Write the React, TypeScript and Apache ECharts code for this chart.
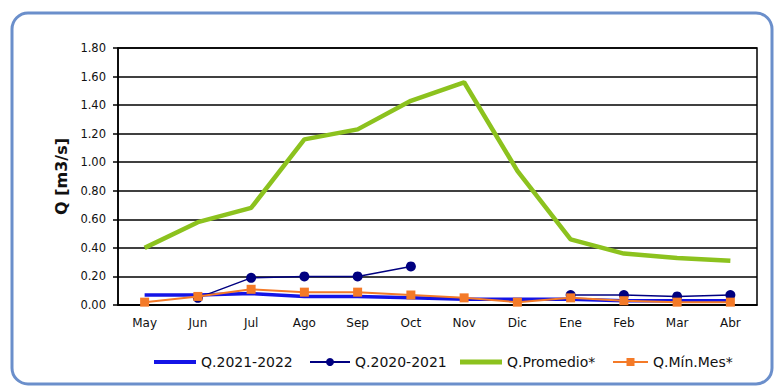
import React, { useEffect, useRef } from "react";
import * as echarts from "echarts";

const months = ["May", "Jun", "Jul", "Ago", "Sep", "Oct", "Nov", "Dic", "Ene", "Feb", "Mar", "Abr"];
const q2021_2022 = [0.07, 0.07, 0.08, 0.06, 0.06, 0.05, 0.04, 0.04, 0.04, 0.03, 0.03, 0.03];
const q2020_2021 = [null, 0.05, 0.19, 0.2, 0.2, 0.27, null, null, 0.07, 0.07, 0.06, 0.07];
const qPromedio = [0.4, 0.58, 0.68, 1.16, 1.23, 1.43, 1.56, 0.94, 0.46, 0.36, 0.33, 0.31];
const qMinMes = [0.02, 0.06, 0.11, 0.09, 0.09, 0.07, 0.05, 0.02, 0.05, 0.03, 0.02, 0.02];
const seriesNames = ["Q.2021-2022", "Q.2020-2021", "Q.Promedio*", "Q.Mín.Mes*"];

export default function App() {
  const ref = useRef<HTMLDivElement>(null);
  useEffect(() => {
    if (!ref.current) return;
    const chart = echarts.init(ref.current, null, { renderer: "svg" });
    const font = "DejaVu Sans, Liberation Sans, Arial, sans-serif";
    const legendText = { fontFamily: font, fontSize: 14, color: "#111" };
    const legendTop = 350;
    chart.setOption({
      animation: false,
      backgroundColor: "#ffffff",
      textStyle: { fontFamily: font },
      graphic: [
        {
          type: "rect",
          shape: { x: 12, y: 13, width: 760, height: 371, r: 16 },
          style: { fill: "none", stroke: "#6b8fcb", lineWidth: 3 },
          silent: true,
        },
      ],
      grid: {
        left: 118,
        right: 19,
        top: 48,
        bottom: 82,
        show: true,
        borderColor: "#000",
        borderWidth: 1.5,
        backgroundColor: "transparent",
      },
      legend: [
        {
          data: [{ name: seriesNames[0], icon: "rect" }],
          left: 149,
          top: legendTop,
          itemWidth: 42,
          itemHeight: 4,
          textStyle: legendText,
        },
        {
          data: [seriesNames[1]],
          left: 304,
          top: legendTop,
          itemWidth: 40,
          itemHeight: 10,
          textStyle: legendText,
        },
        {
          data: [{ name: seriesNames[2], icon: "rect" }],
          left: 455,
          top: legendTop,
          itemWidth: 42,
          itemHeight: 5,
          textStyle: legendText,
        },
        {
          data: [seriesNames[3]],
          left: 607,
          top: legendTop,
          itemWidth: 35,
          itemHeight: 10,
          textStyle: legendText,
        },
      ],
      xAxis: {
        type: "category",
        data: months,
        boundaryGap: true,
        axisLine: { lineStyle: { color: "#000", width: 1.5 } },
        axisTick: { inside: true, length: 5, lineStyle: { color: "#000", width: 1.5 } },
        axisLabel: { color: "#111", fontSize: 12, fontFamily: font, margin: 12 },
      },
      yAxis: {
        type: "value",
        min: 0,
        max: 1.8,
        interval: 0.2,
        name: "Q [m3/s]",
        nameLocation: "middle",
        nameGap: 42,
        nameTextStyle: { fontFamily: font, fontSize: 16, fontWeight: "bold", color: "#111" },
        axisLine: { show: true, lineStyle: { color: "#000", width: 1.5 } },
        axisTick: { show: true, length: 5, lineStyle: { color: "#000", width: 1.5 } },
        axisLabel: {
          color: "#111",
          fontSize: 11.5,
          fontFamily: font,
          margin: 12,
          formatter: (v: number) => v.toFixed(2),
        },
        splitLine: { lineStyle: { color: "#000", width: 1.5 } },
      },
      series: [
        {
          name: seriesNames[0],
          type: "line",
          data: q2021_2022,
          symbol: "none",
          lineStyle: { color: "#1414e6", width: 3.5 },
          itemStyle: { color: "#1414e6" },
          z: 2,
        },
        {
          name: seriesNames[1],
          type: "line",
          data: q2020_2021,
          symbol: "circle",
          symbolSize: 10,
          connectNulls: false,
          lineStyle: { color: "#000080", width: 1.5 },
          itemStyle: { color: "#000080" },
          z: 3,
        },
        {
          name: seriesNames[2],
          type: "line",
          data: qPromedio,
          symbol: "none",
          lineStyle: { color: "#8cc21e", width: 4.5 },
          itemStyle: { color: "#8cc21e" },
          z: 4,
        },
        {
          name: seriesNames[3],
          type: "line",
          data: qMinMes,
          symbol: "rect",
          symbolSize: 9,
          lineStyle: { color: "#f47a28", width: 2 },
          itemStyle: { color: "#f47a28" },
          z: 5,
        },
      ],
    });
    return () => chart.dispose();
  }, []);
  return (
    <div
      ref={ref}
      style={{ position: "fixed", left: 0, top: 0, width: 776, height: 387, background: "#fff" }}
    />
  );
}
